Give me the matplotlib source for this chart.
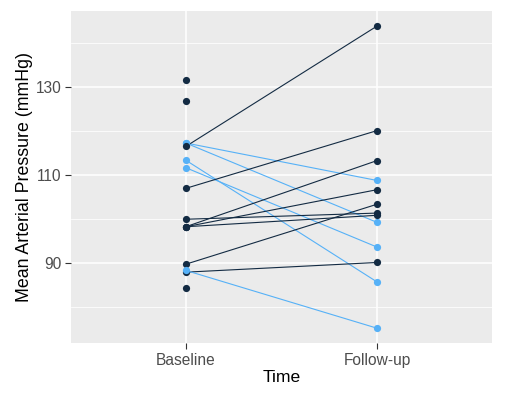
import numpy as np
import matplotlib
matplotlib.use("Agg")
from matplotlib import pyplot as plt
from matplotlib.ticker import FixedLocator

times = ["Baseline", "Follow-up"]

# one row per subject, nan = no follow-up measurement
baseline = [131.6, 126.9, 117.3, 117.3, 116.5, 113.4, 111.7, 107.0,
            100.0, 98.3, 98.3, 98.3, 89.8, 88.0, 88.4, 84.4]
followup = [np.nan, np.nan, 108.8, 99.3, 143.8, 85.8, 93.7, 120.1,
            101.4, 113.3, 106.7, 100.9, 103.4, 90.2, 75.3, np.nan]

major_ticks = [90, 110, 130]
minor_ticks = [80, 100, 120, 140]

DARK = "#132B43"
LIGHT = "#56B1F7"

plt.rcParams['font.family'] = ['Liberation Sans', 'DejaVu Sans']

base = np.array(baseline)
foll = np.array(followup)
decreased = np.where(np.isnan(foll), False, foll < base)
colors = [LIGHT if d else DARK for d in decreased]

fig = plt.figure(figsize=(5.14, 3.93), dpi=100)
ax = fig.add_axes([0.1381, 0.1265, 0.9566 - 0.1381, 0.972 - 0.1265])
ax.set_facecolor("#EBEBEB")
for s in ax.spines.values():
    s.set_visible(False)

# lines between the two time points
for b, f, c in zip(base, foll, colors):
    if not np.isnan(f):
        ax.plot(times, [b, f], color=c, lw=0.8, zorder=2)

# points
for b, f, c in zip(base, foll, colors):
    ax.scatter([times[0]], [b], s=27, color=c, zorder=3, linewidths=0)
    if not np.isnan(f):
        ax.scatter([times[1]], [f], s=27, color=c, zorder=3, linewidths=0)

allv = np.concatenate([base, foll[~np.isnan(foll)]])
lo, hi = allv.min(), allv.max()
pad = 0.05 * (hi - lo)
ax.set_ylim(lo - pad, hi + pad)
ax.set_xlim(-0.6, 1.6)

ax.yaxis.set_major_locator(FixedLocator(major_ticks))
ax.yaxis.set_minor_locator(FixedLocator(minor_ticks))
ax.grid(True, which="major", color="white", lw=1.1, zorder=0)
ax.grid(True, which="minor", axis="y", color="white", lw=0.55, zorder=0)
ax.set_axisbelow(True)

ax.tick_params(which="major", length=4.3, width=0.8, color="#333333",
               labelcolor="#4D4D4D", labelsize=11.2, pad=2.4)
ax.tick_params(which="minor", length=0)

ax.set_xlabel("Time", fontsize=12.6, color="black", labelpad=2)
ax.set_ylabel("Mean Arterial Pressure (mmHg)", fontsize=12.8, color="black", labelpad=2)

plt.savefig("out.png", dpi=100)
